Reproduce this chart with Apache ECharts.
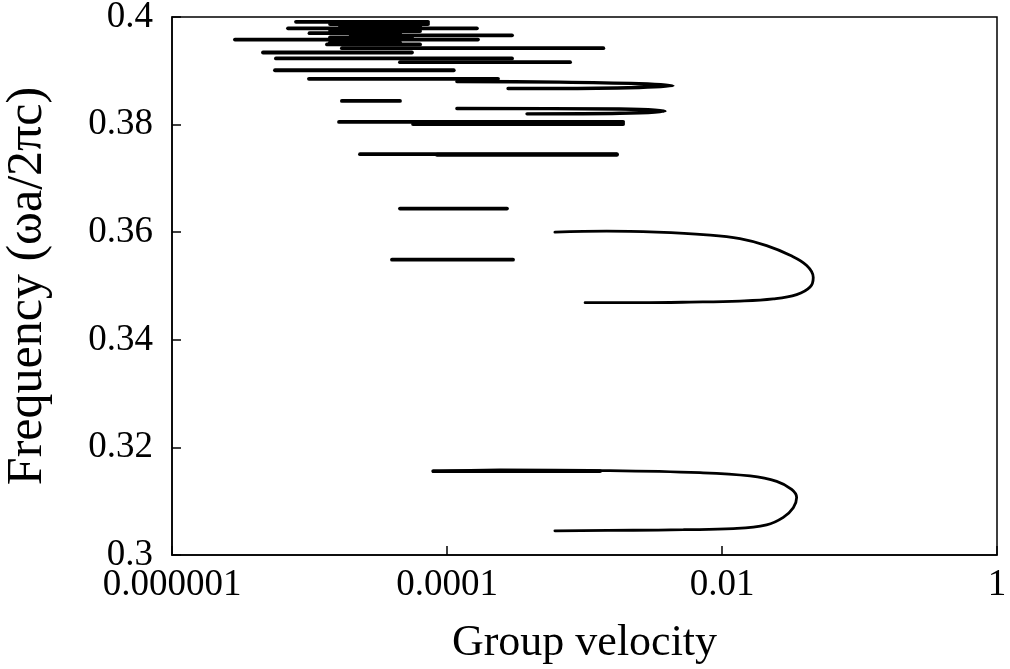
<!DOCTYPE html>
<html>
<head>
<meta charset="utf-8">
<script src="https://cdn.jsdelivr.net/npm/echarts@6/dist/echarts.min.js"></script>
<style>
  html, body { margin: 0; padding: 0; background: #fff; }
  #chart { width: 1010px; height: 669px; }
</style>
</head>
<body>
<div id="chart"></div>
<script>
// tick labels shown on the log x axis (every second decade)
const xTickLabels = ['0.000001', '0.0001', '0.01', '1']

// flat bands: [group velocity start, group velocity end, frequency]
const flatBands = [
  [7.98e-6, 7.28e-5, 0.3991],
  [1.41e-5, 7.28e-5, 0.3987],
  [1.67e-5, 6.37e-5, 0.3983],
  [6.98e-6, 1.65e-4, 0.3979],
  [1.41e-5, 6.37e-5, 0.3974],
  [1.0e-5, 4.55e-5, 0.3970],
  [2.0e-5, 2.97e-4, 0.3966],
  [1.41e-5, 5.56e-5, 0.3962],
  [2.87e-6, 1.68e-4, 0.3958],
  [1.41e-5, 4.55e-5, 0.3953],
  [1.34e-5, 6.37e-5, 0.3949],
  [1.72e-5, 1.37e-3, 0.3942],
  [4.59e-6, 5.56e-5, 0.3934],
  [5.70e-6, 2.97e-4, 0.3923],
  [4.55e-5, 7.85e-4, 0.3916],
  [5.61e-6, 1.12e-4, 0.3901],
  [9.91e-6, 2.35e-4, 0.3885],
  [1.72e-5, 4.55e-5, 0.3844],
  [1.64e-5, 1.91e-3, 0.3805],
  [5.66e-5, 1.91e-3, 0.3801],
  [2.33e-5, 1.72e-3, 0.3745],
  [8.45e-5, 1.72e-3, 0.3744],
  [4.55e-5, 2.73e-4, 0.3644],
  [3.98e-5, 3.02e-4, 0.3549],
  [7.94e-5, 1.30e-3, 0.3156]
]

// folded bands (velocity, frequency)
const foldTop1 = [
  [1.18e-4, 0.3880], [6.6e-4, 0.3879], [2.5e-3, 0.3876], [4.4e-3, 0.3872],
  [2.5e-3, 0.3869], [6.6e-4, 0.3867], [2.78e-4, 0.3867]
]
const foldTop2 = [
  [1.18e-4, 0.3830], [1.8e-3, 0.3829], [3.85e-3, 0.3825], [1.8e-3, 0.3821], [3.82e-4, 0.3820]
]
const foldUpper = [
  [6.09e-4, 0.3600], [1.45e-3, 0.3602], [3.35e-3, 0.3600], [7.74e-3, 0.3595],
  [0.0135, 0.3588], [0.0211, 0.3575], [0.0313, 0.3557], [0.0413, 0.3538],
  [0.0461, 0.3516], [0.0437, 0.3498], [0.0349, 0.3484], [0.0236, 0.3476],
  [0.0135, 0.3472], [5.85e-3, 0.3470], [2.54e-3, 0.3469], [1.01e-3, 0.3469]
]
const foldLower = [
  [7.94e-5, 0.3155], [2.43e-4, 0.3158], [1.30e-3, 0.3157], [6.92e-3, 0.3153],
  [0.0160, 0.3147], [0.0250, 0.3137], [0.0321, 0.3122], [0.0349, 0.3107],
  [0.0330, 0.3088], [0.0279, 0.3070], [0.0211, 0.3056], [0.0121, 0.3049],
  [5.24e-3, 0.3047], [2.26e-3, 0.3046], [6.09e-4, 0.3045]
]

const font = 'Liberation Serif'

function lineSeries(data, width, smooth) {
  return {
    type: 'line',
    data: data,
    smooth: smooth,
    showSymbol: false,
    symbol: 'none',
    silent: true,
    lineStyle: { color: '#000', width: width, cap: 'round' }
  }
}

var series = flatBands.map(b => lineSeries([[b[0], b[2]], [b[1], b[2]]], 3.8, false))
series.push(lineSeries(foldTop1, 3.4, 0.3))
series.push(lineSeries(foldTop2, 3.4, 0.3))
series.push(lineSeries(foldUpper, 2.8, 0.4))
series.push(lineSeries(foldLower, 2.8, 0.4))

var myChart = echarts.init(document.getElementById('chart'))
myChart.setOption({
  animation: false,
  backgroundColor: '#fff',
  grid: {
    left: 172, right: 13, top: 17, bottom: 114,
    outerBoundsMode: 'none',
    containLabel: false,
    show: true, borderColor: '#000', borderWidth: 1.5
  },
  xAxis: {
    type: 'log',
    logBase: 10,
    min: 1e-6,
    max: 1,
    interval: 2,
    name: 'Group velocity',
    nameLocation: 'middle',
    nameGap: 66,
    nameTextStyle: { fontFamily: font, fontSize: 44, color: '#000' },
    axisLine: { lineStyle: { color: '#000', width: 1.5 } },
    axisTick: { inside: true, length: 9, lineStyle: { color: '#000', width: 1.5 } },
    minorTick: { show: false },
    splitLine: { show: false },
    axisLabel: {
      fontFamily: font, fontSize: 37, color: '#000', margin: 12,
      formatter: v => xTickLabels[Math.round((Math.log10(v) + 6) / 2)]
    }
  },
  yAxis: {
    type: 'value',
    min: 0.3,
    max: 0.4,
    interval: 0.02,
    name: 'Frequency (ωa/2πc)',
    nameLocation: 'middle',
    nameRotate: 90,
    nameGap: 119,
    nameTextStyle: { fontFamily: font, fontSize: 50, color: '#000' },
    axisLine: { lineStyle: { color: '#000', width: 1.5 } },
    axisTick: { inside: true, length: 9, lineStyle: { color: '#000', width: 1.5 } },
    splitLine: { show: false },
    axisLabel: { fontFamily: font, fontSize: 37, color: '#000', margin: 19 }
  },
  series: series
})
</script>
</body>
</html>
